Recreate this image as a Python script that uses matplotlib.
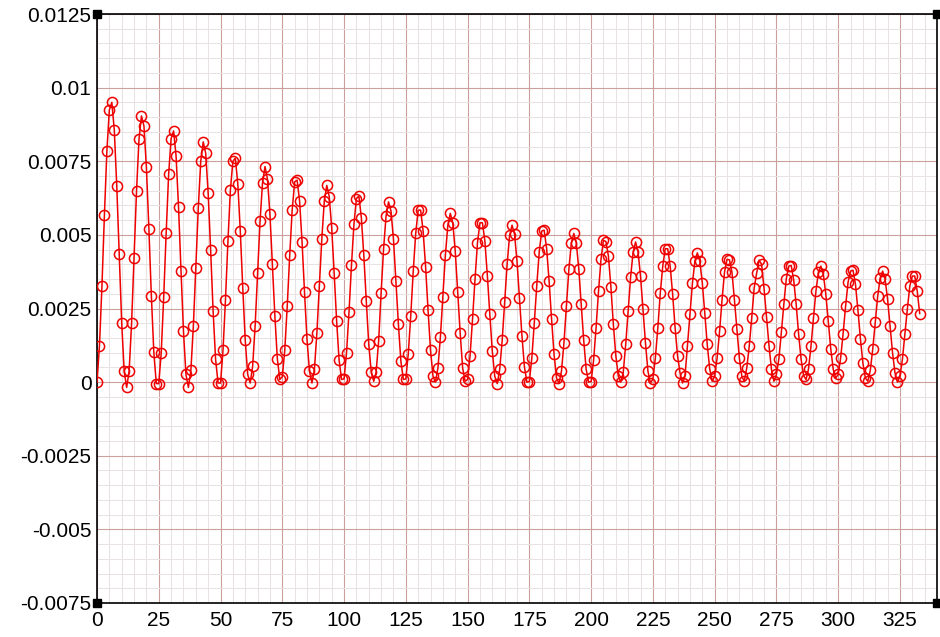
import numpy as np
import matplotlib
matplotlib.use("Agg")
import matplotlib.pyplot as plt
from matplotlib.ticker import MultipleLocator, FuncFormatter

# ---- data ----
y_values = [
    0.0, 0.00124, 0.00326, 0.00567, 0.00785, 0.00924, 0.0095, 0.00856, 0.00666, 0.00434, 0.00201, 0.00037, -0.00018,
    0.00037, 0.0020, 0.00422, 0.00649, 0.00825, 0.00904, 0.0087, 0.00729, 0.00521, 0.00294, 0.00101, -0.00005, -0.00005,
    0.0010, 0.00289, 0.00507, 0.00706, 0.00827, 0.00853, 0.00768, 0.00595, 0.00379, 0.00173, 0.00026, -0.00018,
    0.0004, 0.0019, 0.00388, 0.00592, 0.00751, 0.00816, 0.00777, 0.00641, 0.00448, 0.00241, 0.00077, -0.00003, -0.00003,
    0.00108, 0.0028, 0.00479, 0.00653, 0.0075, 0.0076, 0.00672, 0.00513, 0.0032, 0.00142, 0.00026, -0.00003,
    0.00054, 0.0019, 0.00369, 0.00547, 0.00677, 0.00732, 0.00689, 0.0057, 0.004, 0.00224, 0.00079, 0.00009, 0.00018,
    0.00108, 0.00258, 0.0043, 0.00584, 0.0068, 0.00686, 0.00615, 0.00476, 0.00305, 0.00145, 0.00037, -0.00003,
    0.00043, 0.00167, 0.00326, 0.00487, 0.00615, 0.00668, 0.0063, 0.00524, 0.00369, 0.00207, 0.00074, 0.00009, 0.00011,
    0.001, 0.00237, 0.00397, 0.00536, 0.00623, 0.00632, 0.00558, 0.0043, 0.00275, 0.00128, 0.00035, 0.00003,
    0.00035, 0.0014, 0.00303, 0.00453, 0.00564, 0.00612, 0.00581, 0.00485, 0.00343, 0.00196, 0.00071, 0.00009, 0.00011,
    0.00097, 0.00226, 0.00377, 0.00505, 0.00584, 0.00584, 0.00513, 0.00392, 0.00244, 0.00108, 0.0002, 0.0,
    0.00048, 0.00154, 0.0029, 0.0043, 0.00532, 0.00573, 0.00541, 0.00445, 0.00305, 0.00167, 0.00048, 0.00003, 0.00009,
    0.0009, 0.00213, 0.00349, 0.00473, 0.00541, 0.00541, 0.00479, 0.00362, 0.0023, 0.00105, 0.0002, -0.00005,
    0.00043, 0.00142, 0.00271, 0.004, 0.00498, 0.00533, 0.00502, 0.00411, 0.00286, 0.00158, 0.00052, 0.0, 0.00002,
    0.00082, 0.00201, 0.00328, 0.00442, 0.00513, 0.00516, 0.00453, 0.00343, 0.00213, 0.00094, 0.00014, -0.00005,
    0.00037, 0.00133, 0.00258, 0.00383, 0.00473, 0.00505, 0.00473, 0.00385, 0.00264, 0.00142, 0.00043, 0.0, 0.00002,
    0.00074, 0.00184, 0.00309, 0.00417, 0.00482, 0.00477, 0.00428, 0.00324, 0.00196, 0.0009, 0.0002, 0.0,
    0.00033, 0.00128, 0.00241, 0.00358, 0.00442, 0.00476, 0.00442, 0.0036, 0.00247, 0.00133, 0.00037, -0.00003, 0.0001,
    0.00082, 0.00184, 0.00303, 0.00394, 0.00453, 0.00453, 0.00394, 0.00298, 0.00184, 0.00088, 0.00031, -0.00003,
    0.0002, 0.00124, 0.0023, 0.00335, 0.00411, 0.00439, 0.00411, 0.00337, 0.00235, 0.00128, 0.00045, 0.00003, 0.0002,
    0.00082, 0.00173, 0.0028, 0.00374, 0.00417, 0.00415, 0.00374, 0.0028, 0.00179, 0.00082, 0.0002, 0.00003,
    0.00048, 0.00122, 0.00218, 0.0032, 0.0037, 0.00414, 0.0040, 0.00317, 0.00222, 0.00124, 0.00043, 0.00003, 0.00026,
    0.00079, 0.00169, 0.00264, 0.00351, 0.00394, 0.00396, 0.00346, 0.00264, 0.00162, 0.00077, 0.00022, 0.00009,
    0.00045, 0.00122, 0.00218, 0.00309, 0.00374, 0.00394, 0.00366, 0.00298, 0.00207, 0.00113, 0.00043, 0.00014, 0.00026,
    0.00082, 0.00165, 0.00258, 0.00339, 0.00377, 0.0038, 0.00332, 0.00244, 0.00147, 0.00065, 0.00014, 0.00003,
    0.0004, 0.00113, 0.00203, 0.00292, 0.00354, 0.00377, 0.00349, 0.00281, 0.0019, 0.001, 0.00031, 0.0,
    0.0002, 0.00077, 0.00162, 0.00249, 0.00326, 0.0036, 0.0036, 0.00309, 0.00233,
]
x_step = 1
x_values = np.arange(len(y_values)) * x_step

x_ticks = [0, 25, 50, 75, 100, 125, 150, 175, 200, 225, 250, 275, 300, 325]
y_ticks = [-0.0075, -0.005, -0.0025, 0, 0.0025, 0.005, 0.0075, 0.01, 0.0125]
x_range = (0, 340)
y_range = (-0.0075, 0.0125)

# ---- style ----
plt.rcParams['font.family'] = ['Liberation Sans', 'DejaVu Sans']
plt.rcParams['axes.unicode_minus'] = False

fig = plt.figure(figsize=(9.4, 6.37), dpi=100)
ax = fig.add_axes([97/940, 1 - 603/637, (937-97)/940, (603-14)/637])

red = '#ee0000'
ax.plot(x_values, y_values, color=red, lw=1.1, marker='o', markersize=7.3,
        markerfacecolor='none', markeredgecolor=red, markeredgewidth=1.1, zorder=3)

ax.set_xlim(*x_range)
ax.set_ylim(*y_range)
ax.set_xticks(x_ticks)
ax.set_yticks(y_ticks)
ax.xaxis.set_minor_locator(MultipleLocator(5))
ax.yaxis.set_minor_locator(MultipleLocator(0.0005))
ax.yaxis.set_major_formatter(FuncFormatter(lambda v, p: '0' if abs(v) < 1e-12 else ('%g' % v)))
ax.xaxis.set_major_formatter(FuncFormatter(lambda v, p: '%d' % v))

ax.grid(which='minor', color='#e8e2e2', lw=0.75, zorder=0)
ax.grid(which='major', color='#cc9f9f', lw=0.8, zorder=1)
ax.set_axisbelow(True)

ax.tick_params(which='both', length=0)
ax.tick_params(axis='x', labelsize=15, pad=6)
ax.tick_params(axis='y', labelsize=15, pad=4)

for s in ax.spines.values():
    s.set_color('black')
    s.set_linewidth(1.2)

# corner squares
for cx in x_range:
    for cy in y_range:
        ax.plot([cx], [cy], marker='s', markersize=5.5, color='black',
                clip_on=False, zorder=5)

fig.savefig('out.png', dpi=100)
